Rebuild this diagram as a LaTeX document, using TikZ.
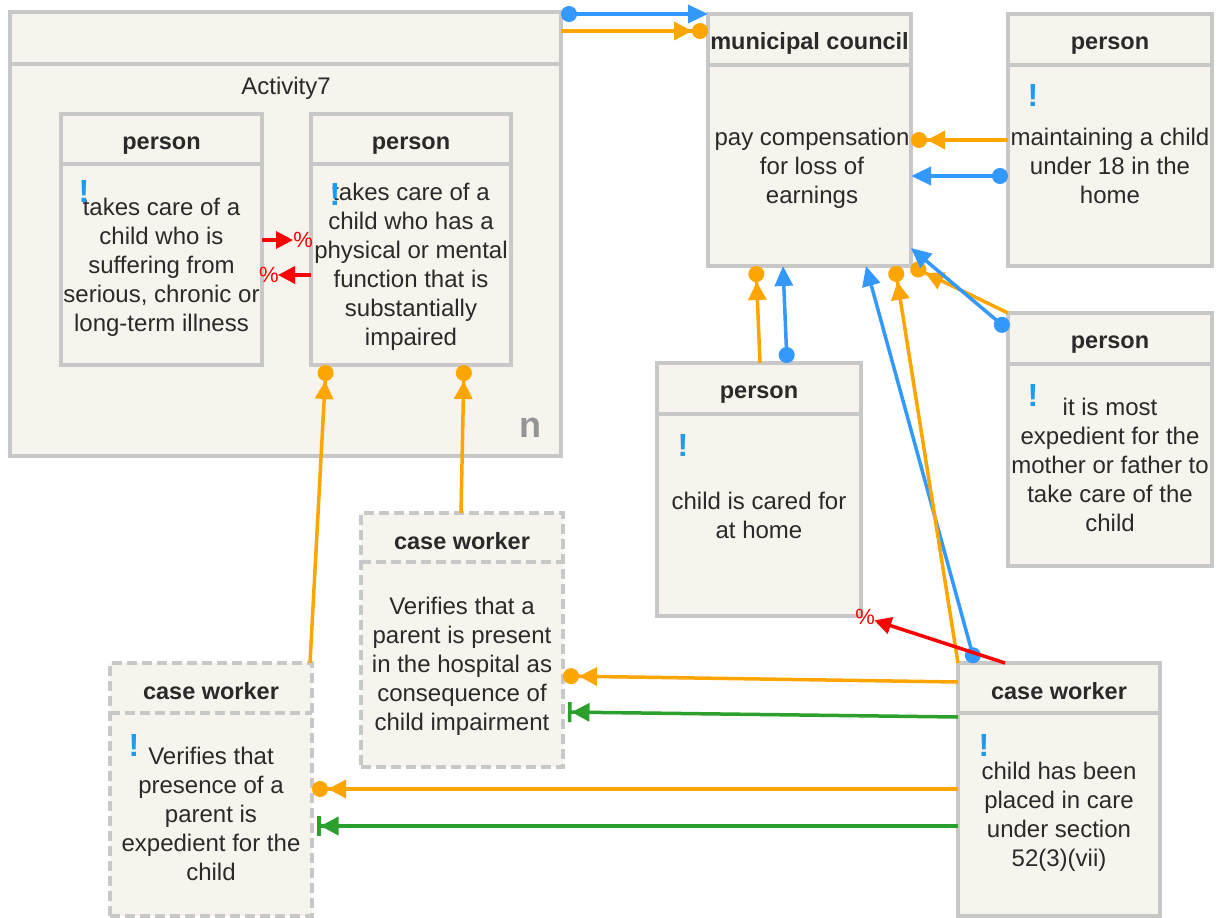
\documentclass[tikz,border=0pt]{standalone}
\usepackage{fontspec}
\setmainfont{Liberation Sans}
\usetikzlibrary{arrows.meta}
\definecolor{BoxFill}{HTML}{F6F4EC}
\definecolor{BoxLine}{HTML}{C8C8C8}
\definecolor{TextDark}{HTML}{2A2A2A}
\definecolor{MarkBlue}{HTML}{1E9BF0}
\definecolor{FlowBlue}{HTML}{3399FF}
\definecolor{FlowOrange}{HTML}{FFA500}
\definecolor{FlowGreen}{HTML}{2CA02C}
\tikzset{
  box/.style={draw=BoxLine, fill=BoxFill, line width=4.5pt, rectangle,
    inner sep=0pt, outer sep=0pt, anchor=north west},
  dashbox/.style={box, dash pattern=on 10pt off 5pt},
  headline/.style={draw=BoxLine, line width=4.5pt},
  dashheadline/.style={headline, dash pattern=on 10pt off 5pt},
  title/.style={font=\fontsize{23.5}{28}\selectfont\bfseries, text=TextDark, inner sep=0pt, anchor=base},
  body/.style={font=\fontsize{24}{29}\selectfont, text=TextDark, align=center, inner sep=0pt},
  bang/.style={font=\fontsize{32}{32}\selectfont\bfseries, text=MarkBlue, inner sep=0pt},
  pct/.style={font=\fontsize{22}{22}\selectfont, text=red, inner sep=0pt},
  bluel/.style={draw=FlowBlue, line width=3.5pt,
    arrows={Circle[length=16pt,width=16pt]-Triangle[length=20pt,width=18pt]}},
  orl/.style={draw=FlowOrange, line width=3.5pt,
    arrows={-Triangle[length=18pt,width=18pt] Circle[length=16pt,width=16pt]}},
  grl/.style={draw=FlowGreen, line width=3.5pt, shorten >=5pt,
    arrows={-Triangle[length=18pt,width=18pt] Bar[width=20pt,line width=3.5pt]}},
  redl/.style={draw=red, line width=3.5pt, arrows={-Triangle[length=17pt,width=17pt]}}
}
\begin{document}
\begin{tikzpicture}[x=1pt, y=-1pt]

    \useasboundingbox (0,0) rectangle (1216,918);

    % Activity7

    \node[box, minimum width=551, minimum height=444] (act) at (10,12) {};
    \draw[headline] (act.west |- 0,64) -- (act.east |- 0,64);
    \node[body] (actName) at (286,88) {Activity7};
    \node[font=\fontsize{36}{36}\selectfont\bfseries, text=black!42, inner sep=0pt] (actN) at (530,428) {n};

    \node[box, minimum width=201, minimum height=251] (pA) at (61,114) {};
    \draw[headline] (pA.west |- 0,164) -- (pA.east |- 0,164);
    \node[title] (pAT) at (pA.north |- 0,149.5) {person};
    \node[body] (pAB) at (pA.north |- 0,267) {takes care of a\\child who is\\suffering from\\serious, chronic or\\long-term illness};
    \node[bang] (pAM) at (84,191) {!};

    \node[box, minimum width=200, minimum height=251] (pB) at (311,114) {};
    \draw[headline] (pB.west |- 0,164) -- (pB.east |- 0,164);
    \node[title] (pBT) at (pB.north |- 0,149.5) {person};
    \node[body] (pBB) at (pB.north |- 0,267) {takes care of a\\child who has a\\physical or mental\\function that is\\substantially\\impaired};
    \node[bang] (pBM) at (335,194) {!};

    % Municipal council and persons

    \node[box, minimum width=203, minimum height=252] (mc) at (708,14) {};
    \draw[headline] (mc.west |- 0,65) -- (mc.east |- 0,65);
    \node[title] (mcT) at (mc.north |- 0,49.5) {municipal council};
    \node[body] (mcB) at (812,168.5) {pay compensation\\for loss of\\earnings};

    \node[box, minimum width=204, minimum height=252] (pC) at (1008,14) {};
    \draw[headline] (pC.west |- 0,65) -- (pC.east |- 0,65);
    \node[title] (pCT) at (pC.north |- 0,49.5) {person};
    \node[body] (pCB) at (pC.north |- 0,166) {maintaining a child\\under 18 in the\\home};
    \node[bang] (pCM) at (1033,95) {!};

    \node[box, minimum width=204, minimum height=253] (pD) at (1008,313) {};
    \draw[headline] (pD.west |- 0,364) -- (pD.east |- 0,364);
    \node[title] (pDT) at (pD.north |- 0,348.5) {person};
    \node[body] (pDB) at (pD.north |- 0,465) {it is most\\expedient for the\\mother or father to\\take care of the\\child};
    \node[bang] (pDM) at (1033,395) {!};

    \node[box, minimum width=204, minimum height=253] (pE) at (657,363) {};
    \draw[headline] (pE.west |- 0,414) -- (pE.east |- 0,414);
    \node[title] (pET) at (pE.north |- 0,398.5) {person};
    \node[body] (pEB) at (pE.north |- 0,515) {child is cared for\\at home};
    \node[bang] (pEM) at (683,445) {!};

    % Case workers

    \node[dashbox, minimum width=202, minimum height=254] (cwA) at (361,513) {};
    \draw[dashheadline] (cwA.west |- 0,562) -- (cwA.east |- 0,562);
    \node[title] (cwAT) at (cwA.north |- 0,549) {case worker};
    \node[body] (cwAB) at (cwA.north |- 0,666) {Verifies that a\\parent is present\\in the hospital as\\consequence of\\child impairment};

    \node[dashbox, minimum width=202, minimum height=253] (cwB) at (110,663) {};
    \draw[dashheadline] (cwB.west |- 0,713) -- (cwB.east |- 0,713);
    \node[title] (cwBT) at (cwB.north |- 0,699) {case worker};
    \node[body] (cwBB) at (cwB.north |- 0,814) {Verifies that\\presence of a\\parent is\\expedient for the\\child};
    \node[bang] (cwBM) at (134,745) {!};

    \node[box, minimum width=202, minimum height=253] (cwC) at (958,663) {};
    \draw[headline] (cwC.west |- 0,713) -- (cwC.east |- 0,713);
    \node[title] (cwCT) at (cwC.north |- 0,699) {case worker};
    \node[body] (cwCB) at (cwC.north |- 0,817) {child has been\\placed in care\\under section\\52(3)(vii)};
    \node[bang] (cwCM) at (984,745) {!};

    % Connectors

    \draw[redl, shorten >=18] (pA.east |- 0,240) -- node[pct, pos=0.84] {\%} (pB.west |- 0,240);
    \draw[redl, shorten >=16] (pB.west |- 0,275) -- node[pct, pos=0.86] {\%} (pA.east |- 0,275);

    \draw[bluel] (act.east |- 0,14) -- (mc.north west);
    \draw[orl] (act.east |- 0,31) -- (mc.west |- 0,31);

    \draw[orl] (pC.west |- 0,140) -- (mc.east |- 0,140);
    \draw[bluel] (pC.west |- 0,176) -- (mc.east |- 0,176);

    \draw[orl] (pE.north -| 760,0) -- (mc.south -| 756,0);
    \draw[bluel] (pE.north -| 787,0) -- (mc.south -| 783,0);

    \draw[orl] (pD.north west) -- (mc.south east);
    \draw[bluel] (pD.west |- 0,330) -- (mc.east |- 0,248);

    \draw[bluel] (cwC.north -| 975,0) -- (mc.south -| 866,0);
    \draw[orl] (cwC.north west) -- (mc.south -| 895,0);

    \draw[redl, shorten >=14] (cwC.north -| 1005,0) -- node[pct, pos=0.972] {\%} (pE.south east);

    \draw[orl] (cwC.west |- 0,682) -- (cwA.east |- 0,676);
    \draw[grl] (cwC.west |- 0,717) -- (cwA.east |- 0,712);
    \draw[orl] (cwC.west |- 0,789) -- (cwB.east |- 0,789);
    \draw[grl] (cwC.west |- 0,826) -- (cwB.east |- 0,826);

    \draw[orl] (cwB.north -| 310,0) -- (pB.south -| 326,0);
    \draw[orl] (cwA.north -| 461,0) -- (pB.south -| 464,0);

\end{tikzpicture}
\end{document}
